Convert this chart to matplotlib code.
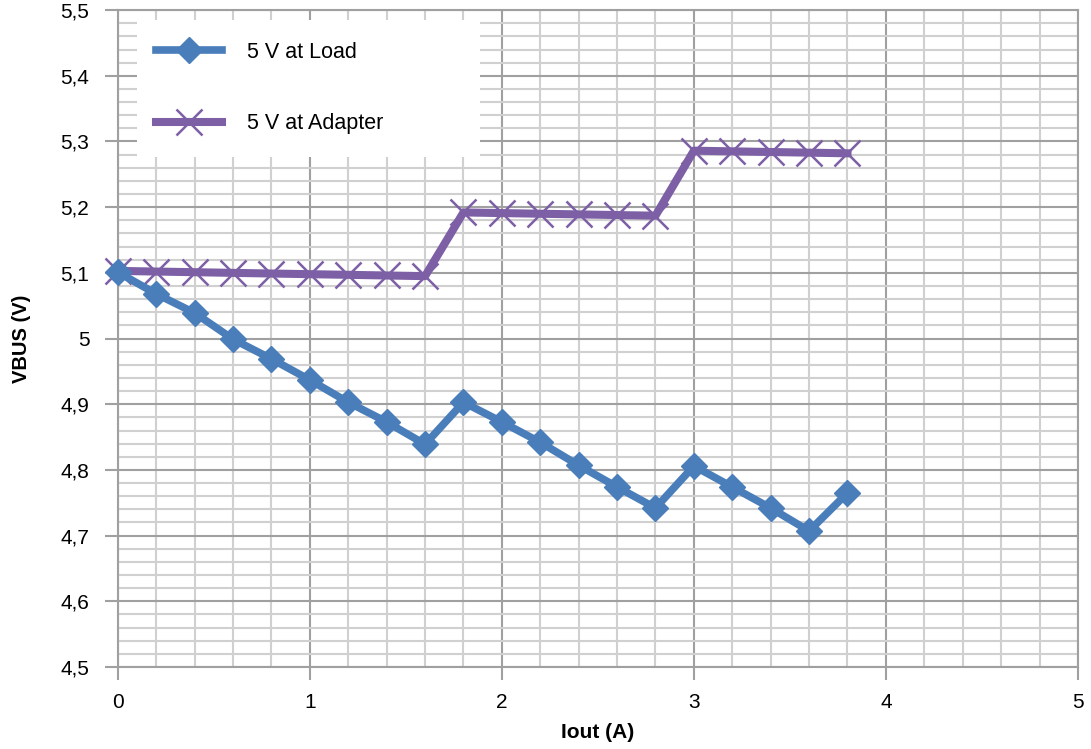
import numpy as np
import matplotlib.pyplot as plt
from matplotlib.ticker import MultipleLocator, FuncFormatter
from matplotlib.patches import Rectangle

plt.rcParams['font.family'] = ['Liberation Sans', 'DejaVu Sans']

# Iout (A)
iout = [0.0, 0.2, 0.4, 0.6, 0.8, 1.0, 1.2, 1.4, 1.6, 1.8,
        2.0, 2.2, 2.4, 2.6, 2.8, 3.0, 3.2, 3.4, 3.6, 3.8]
# VBUS at load (V)
v_load = [5.101, 5.068, 5.039, 4.999, 4.969, 4.937, 4.903, 4.873, 4.839, 4.903,
          4.873, 4.842, 4.807, 4.774, 4.742, 4.806, 4.774, 4.742, 4.707, 4.765]
# VBUS at adapter (V)
v_adapter = [5.103, 5.102, 5.101, 5.100, 5.099, 5.098, 5.097, 5.096, 5.095, 5.192,
             5.191, 5.190, 5.189, 5.188, 5.187, 5.286, 5.285, 5.284, 5.283, 5.282]

BLUE = '#4A7EBB'
PURPLE = '#7D5FA6'

fig = plt.figure(figsize=(10.91, 7.49), dpi=100)
ax = fig.add_axes([0.108, 0.1095, 0.880, 0.877])

ax.plot(iout, v_load, color=BLUE, lw=5.5, marker='D', ms=13,
        mfc=BLUE, mec=BLUE, label='5 V at Load', zorder=4, clip_on=False)
ax.plot(iout, v_adapter, color=PURPLE, lw=5.8, marker='x', ms=19,
        mew=1.8, mec=PURPLE, label='5 V at Adapter', zorder=3, clip_on=False)

ax.set_xlim(0, 5)
ax.set_ylim(4.5, 5.5)
ax.xaxis.set_major_locator(MultipleLocator(1))
ax.xaxis.set_minor_locator(MultipleLocator(0.2))
ax.yaxis.set_major_locator(MultipleLocator(0.1))
ax.yaxis.set_minor_locator(MultipleLocator(0.02))


def comma_fmt(v, pos):
    s = f'{v:.1f}'.rstrip('0').rstrip('.')
    return s.replace('.', ',')


ax.yaxis.set_major_formatter(FuncFormatter(comma_fmt))

ax.grid(which='major', color='#a0a0a0', lw=1.5, zorder=0)
ax.grid(which='minor', color='#d0d0d0', lw=1.5, zorder=0)
ax.set_axisbelow(True)

for sp in ax.spines.values():
    sp.set_color('#a0a0a0')
    sp.set_linewidth(1.5)

ax.tick_params(which='major', length=9.5, width=1.5, color='#a0a0a0',
               labelsize=15, labelcolor='black')
ax.tick_params(axis='y', which='major', pad=11)
ax.tick_params(axis='x', which='major', pad=9)
ax.tick_params(which='minor', length=0)

ax.set_xlabel('Iout (A)', fontsize=15, fontweight='bold')
ax.set_ylabel('VBUS (V)', fontsize=14.5, fontweight='bold')
ax.xaxis.set_label_coords(0.5, -0.099, transform=ax.transAxes)
ax.yaxis.set_label_coords(-0.100, 0.5, transform=ax.transAxes)
ax.xaxis.label.set_va('center')
ax.yaxis.label.set_va('center')

# white legend box
ax.add_patch(Rectangle((0.02, 0.776), 0.357, 0.209, transform=ax.transAxes,
                       facecolor='white', edgecolor='none', zorder=5))
leg = ax.legend(loc='upper left', bbox_to_anchor=(0.023, 0.976), frameon=False,
                fontsize=15.5, numpoints=1, handlelength=3.05, handletextpad=1.16,
                labelspacing=2.34, borderpad=0.75, borderaxespad=0)
leg.set_zorder(6)

fig.savefig('out.png', dpi=100)
